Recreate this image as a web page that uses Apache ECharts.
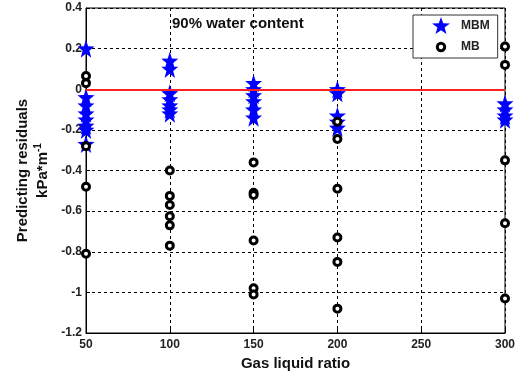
<!DOCTYPE html>
<html>
<head>
<meta charset="utf-8">
<script src="https://cdn.jsdelivr.net/npm/echarts@6/dist/echarts.min.js"></script>
<style>
  html, body { margin: 0; padding: 0; background: #fff; }
  #chart { width: 525px; height: 377px; }
</style>
</head>
<body>
<div id="chart"></div>
<script>
// Gas liquid ratios at which residuals were measured
const xTicks = [50, 100, 150, 200, 250, 300];
const yTicks = [-1.2, -1, -0.8, -0.6, -0.4, -0.2, 0, 0.2, 0.4];

// MBM model residuals (kPa*m^-1), grouped by gas liquid ratio
const mbmX = [50, 50, 50, 50, 50, 50, 50, 50,
              100, 100, 100, 100, 100, 100, 100,
              150, 150, 150, 150, 150, 150,
              200, 200, 200, 200, 200,
              300, 300, 300, 300];
const mbmY = [0.2, -0.04, -0.08, -0.12, -0.15, -0.18, -0.2, -0.27,
              0.14, 0.1, -0.02, -0.05, -0.08, -0.1, -0.12,
              0.03, 0.0, -0.03, -0.06, -0.1, -0.14,
              0.0, -0.02, -0.13, -0.16, -0.19,
              -0.07, -0.1, -0.13, -0.15];

// MB model residuals (kPa*m^-1)
const mbX = [50, 50, 50, 50, 50,
             100, 100, 100, 100, 100, 100,
             150, 150, 150, 150, 150, 150,
             200, 200, 200, 200, 200, 200,
             300, 300, 300, 300, 300];
const mbY = [0.065, 0.03, -0.28, -0.48, -0.81,
             -0.40, -0.525, -0.57, -0.625, -0.67, -0.77,
             -0.36, -0.51, -0.52, -0.745, -0.98, -1.01,
             -0.16, -0.245, -0.49, -0.73, -0.85, -1.08,
             0.21, 0.12, -0.35, -0.66, -1.03];

const zip = (xs, ys) => xs.map((x, i) => [x, ys[i]]);

// five-pointed star marker
const starPath = 'path://M0,-10L2.35,-3.24L9.51,-3.09L3.8,1.24L5.88,8.09L0,4L-5.88,8.09L-3.8,1.24L-9.51,-3.09L-2.35,-3.24Z';
// small ring inside a 16x16 box so the legend icon keeps the marker size
const legendRing = 'path://M0,0M16,16M11.5,8A3.5,3.5,0,1,1,11.5,7.99Z';
const font = '"Liberation Sans", Arial, sans-serif';

const chart = echarts.init(document.getElementById('chart'));
chart.setOption({
  animation: false,
  backgroundColor: '#fff',
  textStyle: { fontFamily: font },
  title: {
    text: '90% water content',
    left: 172, top: 16,
    padding: 0,
    textStyle: { fontFamily: font, fontSize: 15, fontWeight: 'bold', color: '#111' }
  },
  legend: {
    left: 413, top: 15,
    orient: 'vertical',
    backgroundColor: '#fff',
    borderColor: '#333', borderWidth: 1, borderRadius: 0,
    padding: [2, 8, 1, 18],
    itemGap: 3,
    itemWidth: 18, itemHeight: 17,
    textStyle: { fontFamily: font, fontSize: 12, fontWeight: 'bold', color: '#222', padding: [0, 0, 0, 6] },
    data: [
      { name: 'MBM', icon: starPath, itemStyle: { color: '#0000ff' } },
      { name: 'MB', icon: legendRing, itemStyle: { color: '#fff', borderColor: '#000', borderWidth: 3 } }
    ]
  },
  grid: { left: 86, right: 20, top: 8, bottom: 44, show: true, borderColor: '#000', borderWidth: 1 },
  xAxis: {
    type: 'value', min: 50, max: 300, interval: 50,
    name: 'Gas liquid ratio', nameLocation: 'middle', nameGap: 21,
    nameTextStyle: { fontFamily: font, fontSize: 15, fontWeight: 'bold', color: '#111' },
    axisLine: { show: true, onZero: false, lineStyle: { color: '#000', width: 1 } },
    axisTick: { show: true, inside: true, length: 4, lineStyle: { color: '#000' } },
    axisLabel: { fontFamily: font, fontSize: 12, fontWeight: 'bold', color: '#222', margin: 6,
                 formatter: v => String(v) },
    splitLine: { show: true, lineStyle: { color: '#000', type: [3, 3], width: 1 } }
  },
  yAxis: {
    type: 'value', min: -1.2, max: 0.4, interval: 0.2,
    name: '{a|Predicting residuals}\n{a|kPa*m}{s|-1}', nameLocation: 'middle', nameGap: 32,
    nameRotate: 90,
    nameTextStyle: {
      rich: {
        a: { fontFamily: font, fontSize: 15, fontWeight: 'bold', color: '#111', lineHeight: 20 },
        s: { fontFamily: font, fontSize: 10, fontWeight: 'bold', color: '#111', verticalAlign: 'top', lineHeight: 20 }
      }
    },
    axisLine: { show: true, lineStyle: { color: '#000', width: 1 } },
    axisTick: { show: true, inside: true, length: 4, lineStyle: { color: '#000' } },
    axisLabel: { fontFamily: font, fontSize: 12, fontWeight: 'bold', color: '#222', margin: 4,
                 formatter: v => String(Math.round(v * 10) / 10) },
    splitLine: { show: true, lineStyle: { color: '#000', type: [3, 3], width: 1 } }
  },
  series: [
    {
      name: 'MBM', type: 'scatter', z: 3,
      symbol: starPath, symbolSize: [17, 18],
      itemStyle: { color: '#0000ff', opacity: 1 },
      data: zip(mbmX, mbmY),
      markLine: {
        silent: true, symbol: 'none', label: { show: false },
        lineStyle: { color: '#ff2020', width: 2, type: 'solid' },
        data: [{ yAxis: 0 }]
      }
    },
    {
      name: 'MB', type: 'scatter', z: 4,
      symbol: 'circle', symbolSize: 7,
      itemStyle: { color: '#fff', borderColor: '#000', borderWidth: 3, opacity: 1 },
      data: zip(mbX, mbY)
    }
  ]
});
</script>
</body>
</html>
